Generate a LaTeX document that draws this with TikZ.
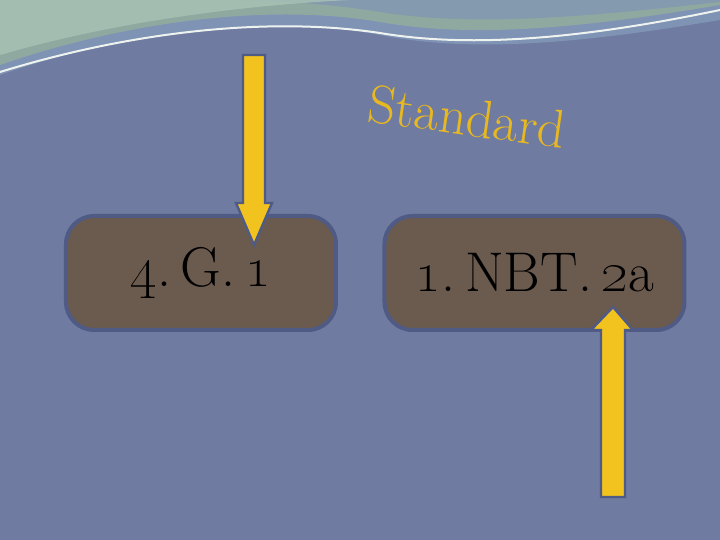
\documentclass[tikz,border=0pt]{standalone}
\usetikzlibrary{positioning}
\definecolor{bg}{HTML}{6F7BA0}
\definecolor{boxfill}{HTML}{6B5A4E}
\definecolor{boxline}{HTML}{4F5B85}
\definecolor{arrowfill}{HTML}{F2C21E}
\definecolor{stdcol}{HTML}{E8B820}
\definecolor{wave1}{HTML}{8FA9A0}
\definecolor{wave2}{HTML}{A9C3B5}
\definecolor{wave3}{HTML}{7F93B5}
\tikzset{
  codebox/.style={draw=boxline, line width=2pt, fill=boxfill, rounded corners=14pt, minimum height=57pt, font=\fontsize{28}{31}\selectfont, text=black},
  yarrow/.style={draw=boxline, line width=1.2pt, fill=arrowfill, line join=miter}
}
\begin{document}
\begin{tikzpicture}[x=0.5pt,y=-0.5pt]
\fill[bg] (0,0) rectangle (720,540);
\useasboundingbox (0,0) rectangle (720,540);
% top wave
\fill[wave3] (0,0) -- (720,0) -- (720,20) .. controls (600,40) and (480,55) .. (380,35) .. controls (250,10) and (100,40) .. (0,75) -- cycle;
\fill[wave1] (0,0) -- (720,0) -- (720,5) .. controls (600,25) and (480,40) .. (380,22) .. controls (250,0) and (100,30) .. (0,65) -- cycle;
\fill[wave3!70!wave1] (200,0) -- (720,0) -- (720,2) .. controls (600,15) and (480,28) .. (380,12) .. controls (320,2) and (260,0) .. (200,0) -- cycle;
\fill[wave2, opacity=0.8] (0,0) -- (350,0) .. controls (250,5) and (120,20) .. (0,55) -- cycle;
\draw[white!80!wave2, line width=1pt] (0,72) .. controls (120,35) and (260,15) .. (380,33) .. controls (480,50) and (600,35) .. (720,10);
\node[codebox, minimum width=135pt] (b1) at (201,273) {\oldstylenums{4}.\,G.\,\oldstylenums{1}};
\node[codebox, minimum width=150pt] (b2) at (534.5,273) {\oldstylenums{1}.\,NBT.\,\oldstylenums{2}a};
\node[text=stdcol, rotate=-8, font=\fontsize{27}{30}\selectfont, anchor=west] (std) at (362,102) {Standard};
% arrow down
\draw[yarrow] (243,55) -- (265,55) -- (265,203) -- (272,203) -- (254,245) -- (236,203) -- (243,203) -- cycle;
% arrow up
\draw[yarrow] (601,497) -- (625,497) -- (625,330) -- (633,330) -- (613,307) -- (591,330) -- (601,330) -- cycle;
\end{tikzpicture}
\end{document}
